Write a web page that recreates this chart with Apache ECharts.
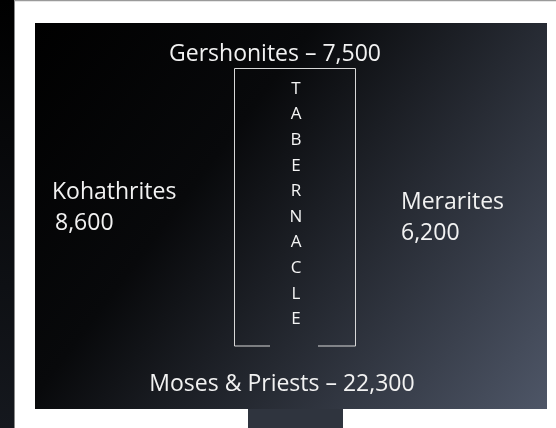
<!DOCTYPE html>
<html><head><meta charset="utf-8">
<script src="https://cdn.jsdelivr.net/npm/echarts@6/dist/echarts.min.js"></script>
<style>html,body{margin:0;padding:0;background:#fff}#c{width:556px;height:428px}</style>
</head><body><div id="c"></div>
<script>
const groups = ['Gershonites', 'Kohathrites', 'Merarites', 'Moses & Priests'];
const counts = [7500, 8600, 6200, 22300];
const centerLabel = 'TABERNACLE';

const fmt = v => v.toLocaleString('en-US');
const FONT = '"Open Sans", Lato, sans-serif';
const chart = echarts.init(document.getElementById('c'));

const panelGrad = new echarts.graphic.LinearGradient(0, 0, 1, 1, [
  {offset: 0, color: '#000000'},
  {offset: 0.35, color: '#08090b'},
  {offset: 1, color: '#4e5667'}
]);

const els = [];
// left dark strip
els.push({type: 'rect', shape: {x: 0, y: 0, width: 14, height: 428},
  style: {fill: new echarts.graphic.LinearGradient(0, 0, 0, 1, [
    {offset: 0, color: '#000'}, {offset: 1, color: '#15181e'}])}});
els.push({type: 'line', shape: {x1: 14.5, y1: 0, x2: 14.5, y2: 428}, style: {stroke: '#8a8a8a', lineWidth: 1}});
els.push({type: 'line', shape: {x1: 14, y1: 0.5, x2: 556, y2: 0.5}, style: {stroke: '#9a9a9a', lineWidth: 1.5}});
// main panel
els.push({type: 'rect', shape: {x: 35, y: 23, width: 512, height: 386}, style: {fill: panelGrad}});
els.push({type: 'rect', shape: {x: 248, y: 409, width: 95, height: 19}, style: {fill: '#2f343e'}});
// tabernacle outline
els.push({type: 'polyline', shape: {points: [[270, 346], [234.5, 346], [234.5, 68.5], [355.5, 68.5], [355.5, 346], [318, 346]]},
  style: {stroke: '#d8d8d8', lineWidth: 1, fill: null}});
centerLabel.split('').forEach((ch, i) => {
  els.push({type: 'text', x: 296, y: 89 + i * 25.6,
    style: {text: ch, fill: '#f4f4f4', font: '17px ' + FONT, textAlign: 'center', textVerticalAlign: 'middle'}});
});
const big = '23px ' + FONT;
els.push({type: 'text', x: 275, y: 54, style: {text: groups[0] + ' \u2013 ' + fmt(counts[0]), fill: '#f2f2f2', font: big, textAlign: 'center', textVerticalAlign: 'middle'}});
els.push({type: 'text', x: 52, y: 192, style: {text: groups[1], fill: '#f2f2f2', font: big, textAlign: 'left', textVerticalAlign: 'middle'}});
els.push({type: 'text', x: 55, y: 223, style: {text: fmt(counts[1]), fill: '#f2f2f2', font: big, textAlign: 'left', textVerticalAlign: 'middle'}});
els.push({type: 'text', x: 401, y: 202, style: {text: groups[2], fill: '#f2f2f2', font: big, textAlign: 'left', textVerticalAlign: 'middle'}});
els.push({type: 'text', x: 401, y: 233, style: {text: fmt(counts[2]), fill: '#f2f2f2', font: big, textAlign: 'left', textVerticalAlign: 'middle'}});
els.push({type: 'text', x: 282, y: 384, style: {text: groups[3] + ' \u2013 ' + fmt(counts[3]), fill: '#f2f2f2', font: big, textAlign: 'center', textVerticalAlign: 'middle'}});

chart.setOption({animation: false, backgroundColor: '#ffffff', graphic: els});
</script></body></html>
